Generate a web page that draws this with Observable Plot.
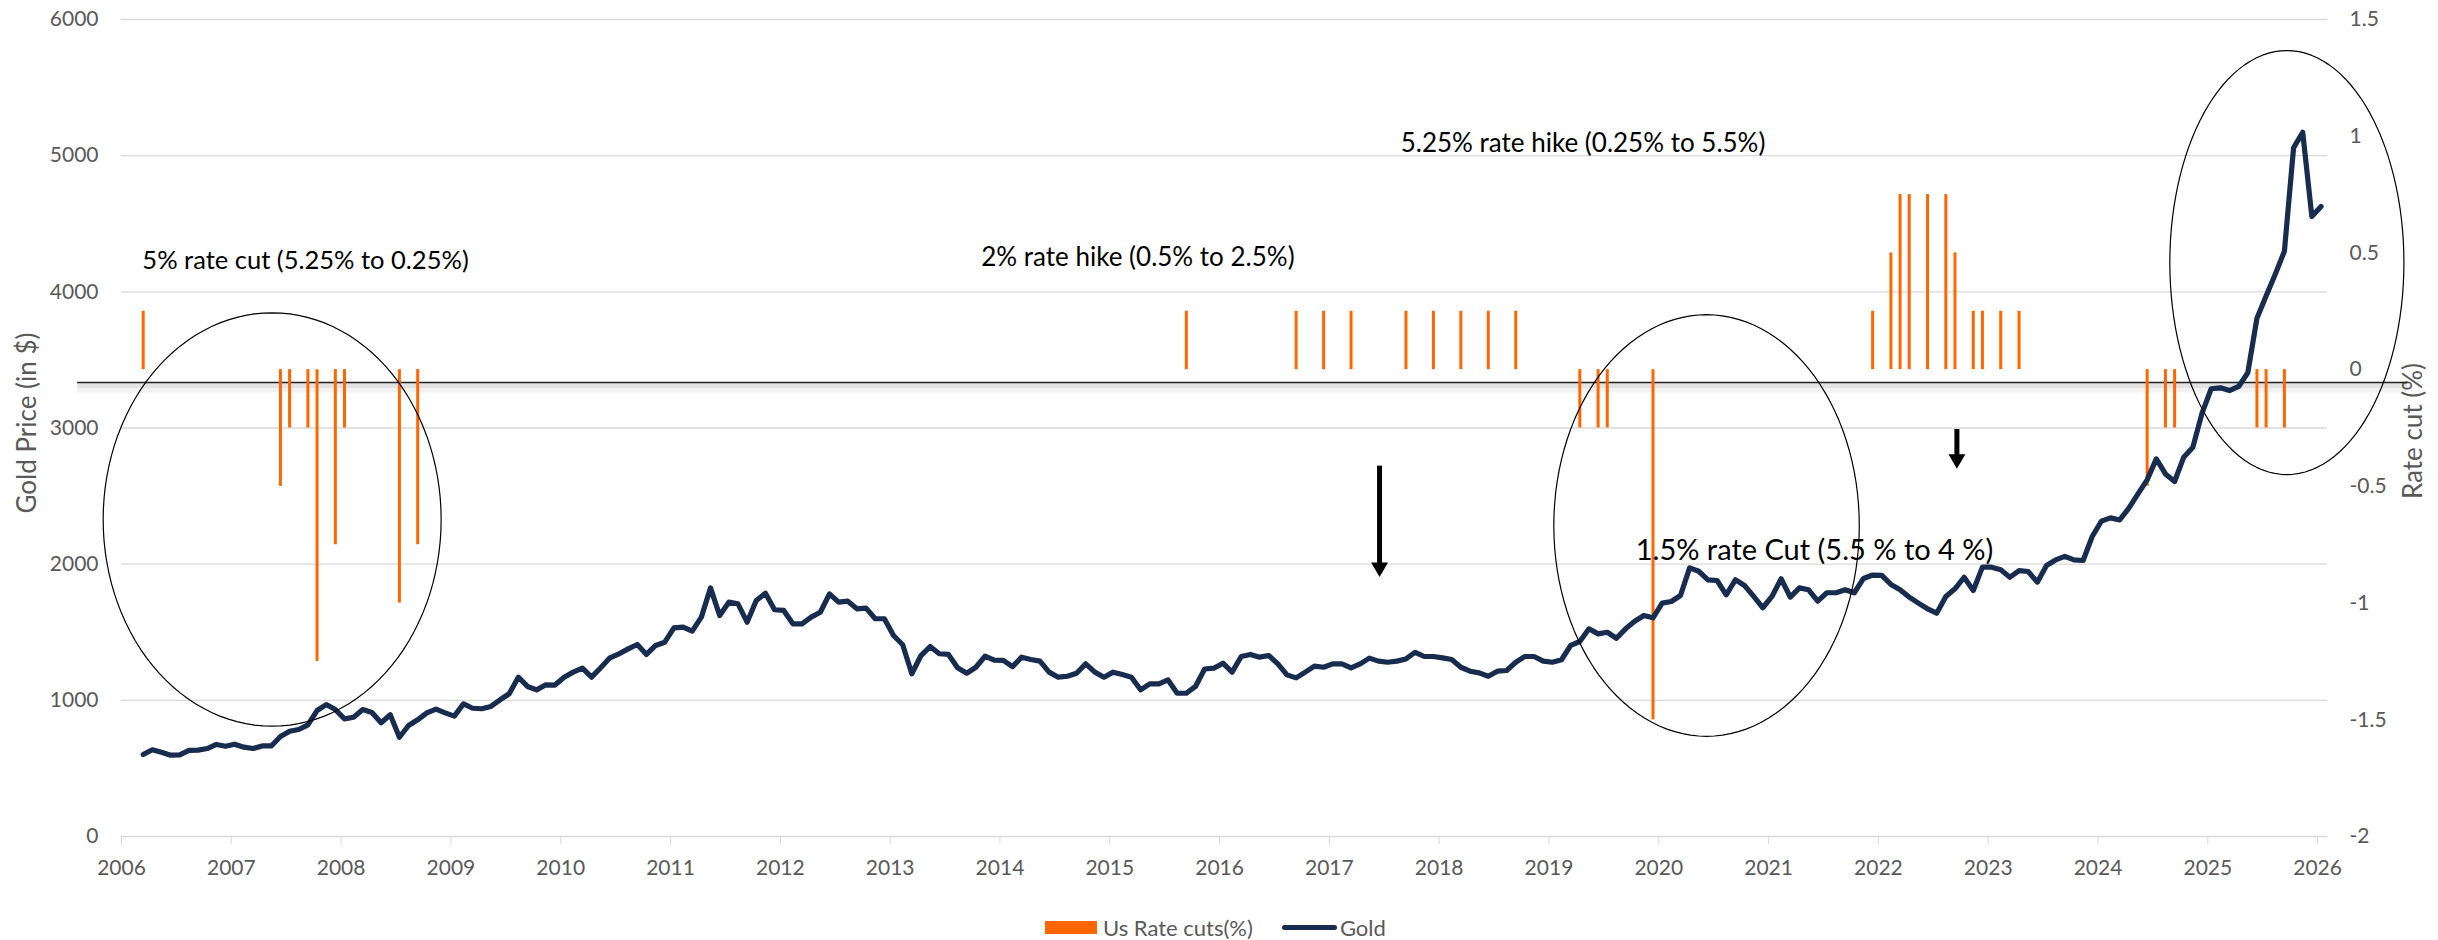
<!DOCTYPE html>
<html>
<head>
<meta charset="utf-8">
<script src="https://cdn.jsdelivr.net/npm/d3@7"></script>
<script src="https://cdn.jsdelivr.net/npm/@observablehq/plot@0.6"></script>
<style>
  body { margin: 0; background: #fff; font-family: Lato, sans-serif; }
  #wrap { position: relative; width: 2438px; height: 940px; overflow: hidden; }
  #legend { position: absolute; left: 1045px; top: 905px; height: 44px; display: flex; align-items: center; font-size: 22px; color: #595959; font-family: Lato, sans-serif; }
  .sw-bar { width: 52px; height: 13px; background: #ff6600; margin-right: 6px; }
  .sw-line { width: 55px; height: 5px; border-radius: 3px; background: #172c4f; margin-left: 29px; margin-right: 3px; }
</style>
</head>
<body>
<div id="wrap">
  <div id="chart"></div>
  <div id="legend"><span class="sw-bar"></span><span>Us Rate cuts(%)</span><span class="sw-line"></span><span>Gold</span></div>
</div>
<script>
// ---------- DATA ----------
const goldStartMonth = "2006-03";           // first monthly gold observation
const goldPrices = [
  602,637,619,597,600,632,634,646,676,663,
  678,656,646,665,665,734,773,786,820,925,
  969,932,864,876,932,911,835,894,729,815,
  857,908,935,908,884,974,942,938,955,1004,
  1048,1170,1102,1077,1114,1112,1170,1207,1236,1170,
  1239,1312,1342,1378,1410,1337,1403,1427,1532,1537,
  1508,1611,1826,1623,1721,1709,1574,1733,1787,1665,
  1660,1562,1562,1611,1647,1782,1721,1728,1672,1677,
  1599,1599,1476,1408,1195,1329,1395,1342,1337,1239,
  1199,1243,1324,1295,1293,1248,1317,1300,1288,1207,
  1170,1177,1199,1268,1207,1170,1207,1190,1170,1077,
  1121,1121,1150,1052,1052,1102,1230,1236,1273,1207,
  1322,1337,1317,1329,1268,1187,1165,1207,1251,1243,
  1268,1268,1239,1268,1310,1288,1280,1288,1304,1353,
  1322,1322,1312,1300,1243,1214,1202,1177,1214,1219,
  1280,1322,1322,1288,1280,1298,1403,1432,1525,1488,
  1500,1456,1525,1581,1623,1606,1714,1726,1770,1973,
  1948,1885,1880,1775,1885,1843,1763,1680,1763,1893,
  1758,1826,1812,1728,1790,1790,1812,1790,1895,1920,
  1917,1851,1812,1758,1714,1672,1640,1763,1819,1904,
  1807,1978,1978,1959,1904,1953,1946,1868,1990,2031,
  2057,2031,2027,2203,2316,2340,2325,2411,2516,2619,
  2773,2663,2607,2786,2859,3109,3288,3295,3275,3305,
  3406,3806,3970,4130,4298,5057,5172,4553,4627
];

const rateMonths = [
  "2006-03","2007-06","2007-07","2007-09","2007-10","2007-12","2008-01","2008-07","2008-09",
  "2015-09","2016-09","2016-12","2017-03","2017-09","2017-12","2018-03","2018-06","2018-09",
  "2019-04","2019-06","2019-07","2019-12",
  "2021-12","2022-02","2022-03","2022-04","2022-06","2022-08","2022-09","2022-11","2022-12","2023-02","2023-04",
  "2024-06","2024-08","2024-09","2025-06","2025-07","2025-09"
];
const rateChanges = [
  0.25,-0.5,-0.25,-0.25,-1.25,-0.75,-0.25,-1,-0.75,
  0.25,0.25,0.25,0.25,0.25,0.25,0.25,0.25,0.25,
  -0.25,-0.25,-0.25,-1.5,
  0.25,0.5,0.75,0.75,0.75,0.75,0.5,0.25,0.25,0.25,0.25,
  -0.5,-0.25,-0.25,-0.25,-0.25,-0.25
];

const yearTicks = [2006,2007,2008,2009,2010,2011,2012,2013,2014,2015,2016,2017,2018,2019,2020,2021,2022,2023,2024,2025,2026];
const goldTicks = [0,1000,2000,3000,4000,5000,6000];
const rateTicks = [-2,-1.5,-1,-0.5,0,0.5,1,1.5];
const goldDomain = [0, 6000];
const rateDomain = [-2, 1.5];

const annotationTexts = ["5% rate cut (5.25% to 0.25%)", "2% rate hike (0.5% to 2.5%)", "5.25% rate hike (0.25% to 5.5%)", "1.5% rate Cut (5.5 % to 4 %)"];
const annotationYears = [2006.19, 2013.83, 2017.65, 2019.79];
const annotationGold  = [4230, 4252, 5089, 2100];

const ellipseYears = [2007.372, 2020.435, 2025.72];
const ellipseGold  = [2328, 2284, 4215];
const ellipseRYears = [1.539, 1.391, 1.066];
const ellipseRGold  = [1518, 1548, 1557];

const arrowYears = [2017.457, 2022.715];
const arrowFrom  = [2720, 2989];
const arrowTo    = [1905, 2700];

const separatorRate = -0.055;
const separatorSpan = [2005.6, 2026.82];

// ---------- STYLE ----------
const noteFontSizes = [25.5, 26, 26, 29];
const font = "Lato, sans-serif";
const grey = "#595959";

// ---------- HELPERS ----------
const monthToYear = s => { const [y, m] = s.split("-").map(Number); return y + (m - 1 + 0.37) / 12; };
const rateToGold = r => (r - rateDomain[0]) / (rateDomain[1] - rateDomain[0]) * (goldDomain[1] - goldDomain[0]) + goldDomain[0];
const goldToRate = g => (g - goldDomain[0]) / (goldDomain[1] - goldDomain[0]) * (rateDomain[1] - rateDomain[0]) + rateDomain[0];
const fmtRate = r => String(Math.round(r * 10) / 10);

const [sy, sm] = goldStartMonth.split("-").map(Number);
const gold = goldPrices.map((v, i) => {
  const d = new Date(Date.UTC(sy, sm - 1 + i, 1));
  const key = `${d.getUTCFullYear()}-${String(d.getUTCMonth() + 1).padStart(2, "0")}`;
  return { t: monthToYear(key), v };
});
const rates = rateMonths.map((m, i) => ({ t: monthToYear(m), r: rateChanges[i] }));
const notes = annotationTexts.map((text, i) => ({ text, t: annotationYears[i], v: annotationGold[i], fs: noteFontSizes[i] }));
const ellipsePts = [];
ellipseYears.forEach((cx, j) => {
  for (let a = 0; a <= 360; a += 3) {
    const th = a * Math.PI / 180;
    ellipsePts.push({ id: j, t: cx + ellipseRYears[j] * Math.cos(th), v: ellipseGold[j] + ellipseRGold[j] * Math.sin(th) });
  }
});
const arrows = arrowYears.map((t, i) => ({ t, from: arrowFrom[i], to: arrowTo[i] }));

const chart = Plot.plot({
  width: 2438,
  height: 905,
  marginLeft: 121,
  marginRight: 111,
  marginTop: 19,
  marginBottom: 69,
  style: { fontFamily: font, background: "white", overflow: "visible" },
  x: { domain: [2006, 2026.09] },
  y: { domain: goldDomain },
  marks: [
    Plot.gridY(goldTicks.filter(d => d > 0), { stroke: "#d9d9d9", strokeOpacity: 1, strokeWidth: 1.3 }),
    Plot.ruleY([0], { stroke: "#d9d9d9", strokeWidth: 1.5 }),
    Plot.axisX({ ticks: yearTicks, tickFormat: d => String(d), tickSize: 8, tickPadding: 16, stroke: "#d9d9d9", fill: grey, fontSize: 21, label: null }),
    Plot.axisY({ anchor: "left", ticks: goldTicks, tickFormat: d => String(d), tickSize: 0, tickPadding: 23, fill: grey, fontSize: 21, label: null }),
    Plot.axisY({ anchor: "right", ticks: rateTicks.map(rateToGold), tickFormat: v => fmtRate(goldToRate(v)), tickSize: 0, tickPadding: 22, fill: grey, fontSize: 21, label: null }),
    Plot.text(["Gold Price (in $)"], { frameAnchor: "left", dx: -94, dy: -5, rotate: -90, textAnchor: "middle", fill: grey, fontSize: 26, lineAnchor: "middle" }),
    Plot.text(["Rate cut (%)"], { frameAnchor: "right", dx: 86, dy: 3, rotate: -90, textAnchor: "middle", fill: grey, fontSize: 26, lineAnchor: "middle" }),
    // separator line with soft shadow
    Plot.ruleY([rateToGold(separatorRate)], { x1: separatorSpan[0], x2: separatorSpan[1], stroke: "#000", strokeOpacity: 0.05, strokeWidth: 10, dy: 5 }),
    Plot.ruleY([rateToGold(separatorRate)], { x1: separatorSpan[0], x2: separatorSpan[1], stroke: "#000", strokeOpacity: 0.06, strokeWidth: 5, dy: 3 }),
    Plot.ruleY([rateToGold(separatorRate)], { x1: separatorSpan[0], x2: separatorSpan[1], stroke: "#222", strokeWidth: 1.3 }),
    // rate bars
    Plot.ruleX(rates, { x: "t", y1: () => rateToGold(0), y2: d => rateToGold(d.r), stroke: "#ff6600", strokeWidth: 3 }),
    // gold line
    Plot.line(gold, { x: "t", y: "v", stroke: "#172c4f", strokeWidth: 5.2, strokeLinejoin: "round", strokeLinecap: "round" }),
    // annotations
    Plot.text(notes, { x: "t", y: "v", text: "text", textAnchor: "start", fill: "#000", fontSize: d => d.fs, lineAnchor: "middle" }),
    Plot.line(ellipsePts, { x: "t", y: "v", z: "id", stroke: "#000", strokeWidth: 1.2, curve: "linear" }),
    Plot.ruleX(arrows, { x: "t", y1: "from", y2: "to", stroke: "#000", strokeWidth: 5, insetBottom: 12 }),
    Plot.dot(arrows, { x: "t", y: "to", symbol: "triangle", rotate: 180, r: 6.3, fill: "#000", stroke: "none", dy: -9.8 })
  ]
});
document.getElementById("chart").appendChild(chart);
</script>
</body>
</html>
